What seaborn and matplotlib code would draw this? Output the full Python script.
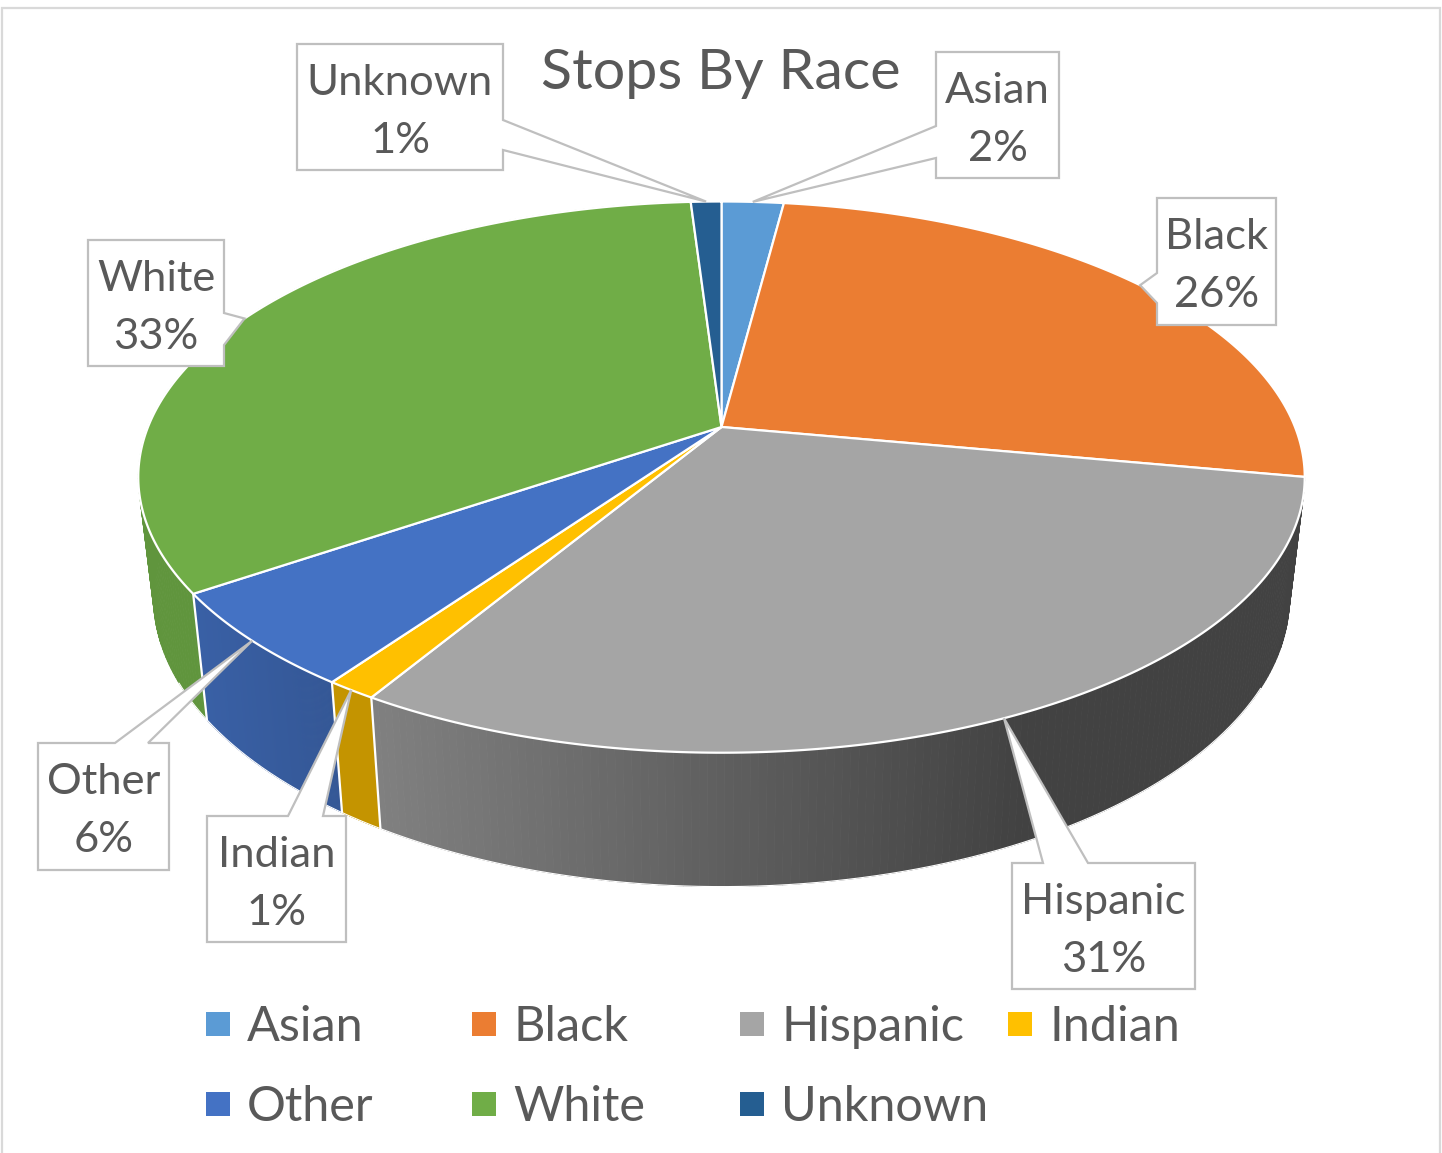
import numpy as np
import matplotlib.pyplot as plt
from matplotlib.collections import PolyCollection
from matplotlib.patches import Polygon, Rectangle
import seaborn as sns

races = ['Asian', 'Black', 'Hispanic', 'Indian', 'Other', 'White', 'Unknown']
shares = [2.05, 25.85, 30.72, 1.2, 5.68, 33.49, 1.01]
colors = ['#5B9BD5', '#EB7D32', '#A5A5A5', '#FFC000', '#4472C4', '#70AD47', '#255E91']

# lightness of the rim by screen x, per slice
rim_x = {'Hispanic': [380, 1030], 'Other': [200, 340], 'White': [140, 210], 'Indian': [330, 380]}
rim_light = {'Hispanic': [0.775, 0.40], 'Other': [0.84, 0.76], 'White': [0.86, 0.86], 'Indian': [0.77, 0.77]}

# callout boxes: x0, y0, x1, y1, side the pointer leaves from, pointer base
boxes = {
    'Asian': (936, 52, 1059, 178, 'left', 126, 158),
    'Black': (1157, 198, 1276, 325, 'left', 273, 303),
    'Hispanic': (1012, 863, 1195, 989, 'top', 1043, 1088),
    'Indian': (207, 816, 346, 942, 'top', 288, 323),
    'Other': (38, 743, 169, 870, 'top', 115, 148),
    'White': (88, 240, 224, 366, 'right', 313, 345),
    'Unknown': (297, 44, 503, 170, 'right', 120, 150),
}
legend_x = [206, 472, 740, 1008]
legend_y = [1012, 1092]

# pie projection in pixels
cx, cy = 721.5, 427
ax_r, ay_r, persp = 573.5, 266.5, 0.1818
depth_x, depth_y, depth_off = 0.974, 1.05, 117.6

text_col = '#595959'
line_col = '#BFBFBF'


def top_ring(theta):
    u, v = np.sin(theta), -np.cos(theta)
    w = 1 - persp * v
    return cx + ax_r * u / w, cy + ay_r * v / w


def low_ring(theta):
    x, y = top_ring(theta)
    return cx + depth_x * (x - cx), cy + depth_off + depth_y * (y - cy)


sns.set_theme(style='white')
plt.rcParams['font.family'] = ['Lato', 'DejaVu Sans']
palette = sns.color_palette(colors)

fig, ax = plt.subplots(figsize=(14.42, 11.53), dpi=100)
ax.set_position([0, 0, 1, 1])
ax.set_xlim(0, 1442)
ax.set_ylim(1153, 0)
ax.axis('off')

ax.add_patch(Rectangle((2, 8), 1438, 1200, fc='white', ec='#D9D9D9', lw=1.6, zorder=0))

fracs = np.array(shares) / np.sum(shares)
edges = np.concatenate([[0], np.cumsum(fracs)]) * 2 * np.pi

# rim
for i, race in enumerate(races):
    if race not in rim_x:
        continue
    t = np.linspace(edges[i], edges[i + 1], 160)
    x1, y1 = top_ring(t)
    x2, y2 = low_ring(t)
    quads = []
    cols = []
    for k in range(len(t) - 1):
        quads.append([(x1[k], y1[k]), (x1[k + 1], y1[k + 1]), (x2[k + 1], y2[k + 1]), (x2[k], y2[k])])
        light = np.interp(x1[k], rim_x[race], rim_light[race])
        cols.append(tuple(np.array(palette[i]) * light))
    ax.add_collection(PolyCollection(quads, facecolors=cols, edgecolors=cols, linewidths=0.6, zorder=2))

# white seams down the rim and along the visible part of its lower edge
t = np.radians(np.linspace(118, 243, 300))
x2, y2 = low_ring(t)
ax.plot(x2, y2, color='white', lw=0.8, zorder=3)
for e in edges[3:6]:
    xa, ya = top_ring(e)
    xb, yb = low_ring(e)
    ax.plot([xa, xb], [ya, yb], color='white', lw=1.6, zorder=3)

# top face
for i, race in enumerate(races):
    t = np.linspace(edges[i], edges[i + 1], 200)
    x, y = top_ring(t)
    pts = np.column_stack([np.r_[cx, x], np.r_[cy, y]])
    ax.add_patch(Polygon(pts, closed=True, fc=palette[i], ec='white', lw=1.6, joinstyle='round', zorder=4))

# data labels
for i, race in enumerate(races):
    x0, y0, x1, y1, side, b0, b1 = boxes[race]
    tip = top_ring((edges[i] + edges[i + 1]) / 2)
    if side == 'top':
        pts = [(x0, y0), (b0, y0), tip, (b1, y0), (x1, y0), (x1, y1), (x0, y1)]
    elif side == 'left':
        pts = [(x0, y0), (x1, y0), (x1, y1), (x0, y1), (x0, b1), tip, (x0, b0)]
    else:
        pts = [(x0, y0), (x1, y0), (x1, b0), tip, (x1, b1), (x1, y1), (x0, y1)]
    ax.add_patch(Polygon(pts, closed=True, fc='white', ec=line_col, lw=1.6, joinstyle='miter', zorder=5))
    mid = (x0 + x1) / 2
    ax.text(mid, y0 + 51, race, ha='center', va='baseline', fontsize=31.3, color=text_col, zorder=6)
    ax.text(mid, y0 + 109, f'{fracs[i] * 100:.0f}%', ha='center', va='baseline', fontsize=31.3, color=text_col, zorder=6)

ax.text(721, 89, 'Stops By Race', ha='center', va='baseline', fontsize=41.3, color=text_col, zorder=6)

# legend, filled row by row
for i, race in enumerate(races):
    row, col = divmod(i, 4)
    ax.add_patch(Rectangle((legend_x[col], legend_y[row]), 24, 24, fc=palette[i], ec='none', zorder=5))
    ax.text(legend_x[col] + 41, legend_y[row] + 29, race, ha='left', va='baseline', fontsize=35, color=text_col, zorder=6)

sns.despine(ax=ax, left=True, bottom=True)
fig.savefig('out.png', dpi=100)
